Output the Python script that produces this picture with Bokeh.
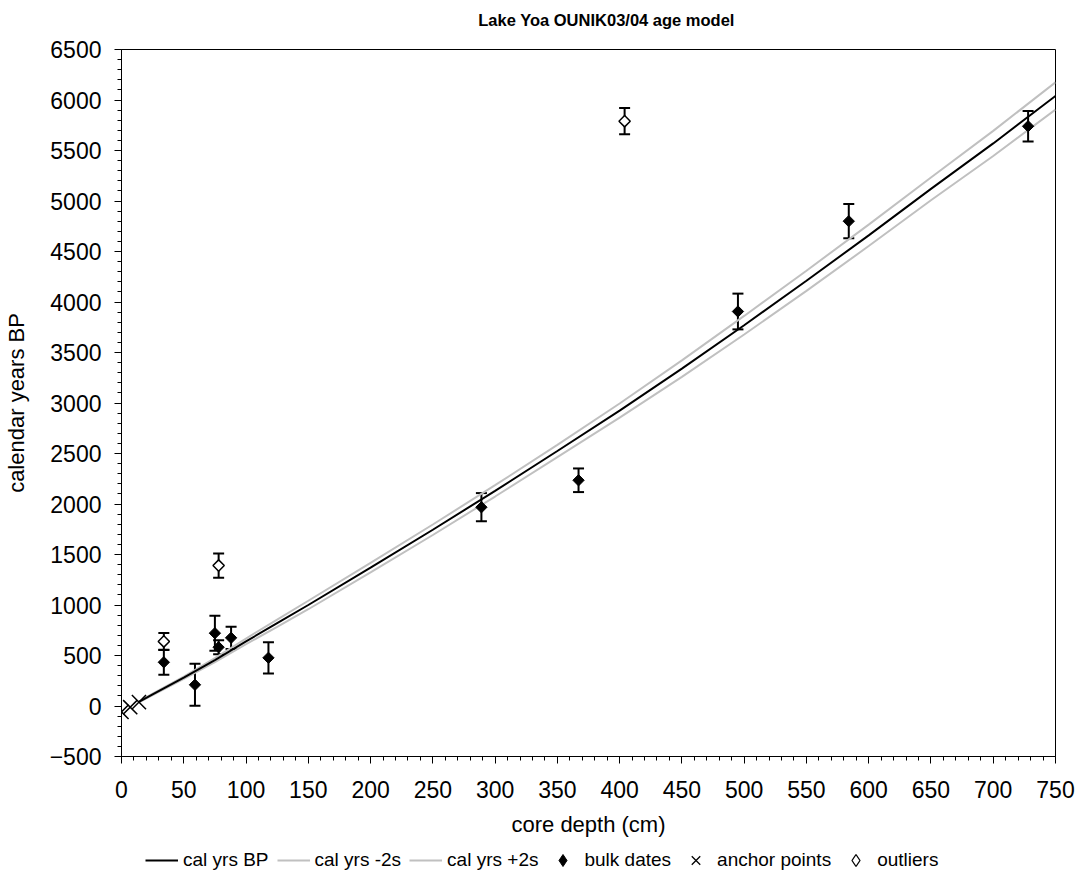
import math
from bokeh.plotting import figure
from bokeh.layouts import column
from bokeh.models import (ColumnDataSource, Whisker, TeeHead, Legend, LegendItem,
                          SingleIntervalTicker, Range1d, Label)
from bokeh.embed import file_html
from bokeh.resources import INLINE

# ---- age model ----
model_depth = [14, 25, 50, 75, 100, 125, 150, 200, 250, 300, 350, 400, 450, 500, 550, 600, 650, 700, 750]
model_age = [40, 115, 280, 455, 640, 820, 1000, 1370, 1745, 2130, 2525, 2925, 3340, 3770, 4210, 4660, 5120, 5570, 6040]
model_sigma2 = [3, 8, 12, 20, 28, 36, 42, 48, 52, 56, 60, 70, 82, 92, 100, 106, 113, 124, 135]

# ---- bulk dates ----
bulk_depth = [34, 59, 75, 78, 88, 118, 289, 367, 495, 584, 728]
bulk_age = [433, 210, 721, 582, 675, 477, 1968, 2235, 3906, 4800, 5740]
bulk_err = [123, 208, 173, 70, 110, 155, 140, 117, 177, 170, 150]

# ---- anchor points ----
anchor_depth = [0, 7, 14]
anchor_age = [-58, -12, 38]

# ---- outliers ----
out_depth = [34, 78, 404]
out_age = [639, 1391, 5790]
out_err = [85, 120, 130]

title_text = "Lake Yoa OUNIK03/04 age model"
legend_labels = ["cal yrs BP", "cal yrs -2s", "cal yrs +2s", "bulk dates", "anchor points", "outliers"]

FONT = "Liberation Sans"
GREY = "#c0c0c0"

lower = [a - s for a, s in zip(model_age, model_sigma2)]
upper = [a + s for a, s in zip(model_age, model_sigma2)]


def strip(height):
    f = figure(width=1080, height=height, output_backend="svg", toolbar_location=None,
               x_range=Range1d(0, 1), y_range=Range1d(0, 1),
               x_axis_location=None, y_axis_location=None, title=None,
               min_border_left=0, min_border_right=0, min_border_top=0, min_border_bottom=0)
    f.outline_line_color = None
    f.xgrid.visible = False
    f.ygrid.visible = False
    f.background_fill_color = "white"
    f.border_fill_color = "white"
    return f


# ---- title strip ----
t = strip(30)
t.add_layout(Label(x=0.5, y=0.5, text=title_text, text_align="center", text_baseline="middle",
                   x_offset=18, y_offset=-4, text_font=FONT, text_font_size="16.5px",
                   text_font_style="bold", text_color="black"))

# ---- main chart ----
p = figure(width=1080, height=810, output_backend="svg", toolbar_location=None,
           x_range=Range1d(0, 750), y_range=Range1d(-500, 6500), title=None,
           min_border_left=119, min_border_right=25, min_border_top=19, min_border_bottom=84)
p.background_fill_color = "white"
p.border_fill_color = "white"
p.outline_line_color = "black"
p.outline_line_width = 1
p.xgrid.visible = False
p.ygrid.visible = False

for ax in (p.xaxis[0], p.yaxis[0]):
    ax.major_label_text_font = FONT
    ax.major_label_text_font_size = "23px"
    ax.axis_label_text_font = FONT
    ax.axis_label_text_font_size = "22px"
    ax.axis_label_text_font_style = "normal"
    ax.axis_line_color = "black"
    ax.major_tick_line_color = "black"
    ax.minor_tick_line_color = "black"
    ax.major_tick_in = 0
    ax.major_tick_out = 7
    ax.minor_tick_in = 0
    ax.minor_tick_out = 4
    ax.major_label_text_color = "black"
    ax.axis_label_text_color = "black"

p.xaxis.ticker = SingleIntervalTicker(interval=50, num_minor_ticks=5)
p.yaxis.ticker = SingleIntervalTicker(interval=500, num_minor_ticks=5)
p.xaxis.axis_label = "core depth (cm)"
p.yaxis.axis_label = "calendar years BP"
p.xaxis.major_label_standoff = 17
p.yaxis.major_label_standoff = 13
p.xaxis.axis_label_standoff = 11
p.yaxis.axis_label_standoff = 18

p.line(model_depth, lower, line_color=GREY, line_width=2)
p.line(model_depth, upper, line_color=GREY, line_width=2)
p.line(model_depth, model_age, line_color="black", line_width=2)

bsrc = ColumnDataSource(dict(x=bulk_depth, y=bulk_age,
                             lo=[a - e for a, e in zip(bulk_age, bulk_err)],
                             hi=[a + e for a, e in zip(bulk_age, bulk_err)]))
osrc = ColumnDataSource(dict(x=out_depth, y=out_age,
                             lo=[a - e for a, e in zip(out_age, out_err)],
                             hi=[a + e for a, e in zip(out_age, out_err)]))
for src in (bsrc, osrc):
    w = Whisker(source=src, base="x", lower="lo", upper="hi", dimension="height",
                line_color="black", line_width=2,
                upper_head=TeeHead(size=11, line_color="black", line_width=2),
                lower_head=TeeHead(size=11, line_color="black", line_width=2))
    p.add_layout(w)

p.scatter("x", "y", source=bsrc, marker="square", size=8, angle=math.pi / 4,
          fill_color="black", line_color="black", line_width=1)
p.scatter(anchor_depth, anchor_age, marker="x", size=20,
          line_color="black", line_width=1.5)
p.scatter("x", "y", source=osrc, marker="square", size=8, angle=math.pi / 4,
          fill_color="white", line_color="black", line_width=1.5)

# ---- legend strip below the chart (legend samples sit outside the strip's view) ----
q = strip(35)
off = [5, 6]
lg = [
    q.line(off, off, line_color="black", line_width=2),
    q.line(off, off, line_color=GREY, line_width=2),
    q.line(off, off, line_color=GREY, line_width=2),
    q.scatter(off, off, marker="diamond", size=13, fill_color="black", line_color="black"),
    q.scatter(off, off, marker="x", size=13, line_color="black", line_width=1.3),
    q.scatter(off, off, marker="diamond", size=13, fill_color="white", line_color="black", line_width=1.3),
]
legend = Legend(items=[LegendItem(label=lab, renderers=[r]) for lab, r in zip(legend_labels, lg)],
                orientation="horizontal", location=(24, 0))
legend.label_text_font = FONT
legend.label_text_font_size = "19px"
legend.label_text_color = "black"
legend.border_line_color = None
legend.background_fill_alpha = 0
legend.glyph_width = 33
legend.glyph_height = 30
legend.label_standoff = 5
legend.spacing = 8
legend.padding = 2
legend.margin = 0
q.add_layout(legend, "center")

open("out.html", "w").write(file_html(column(t, p, q, spacing=0), INLINE))
